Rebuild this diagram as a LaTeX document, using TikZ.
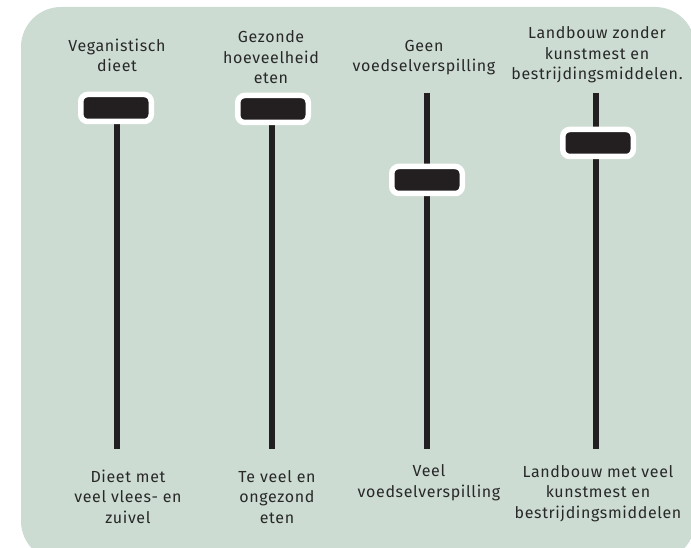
\documentclass[tikz,border=0pt]{standalone}
\usepackage{fontspec}
\setmainfont{Fira Sans}[LetterSpace=4]
\definecolor{bg}{RGB}{204,220,210}
\definecolor{ink}{RGB}{35,31,32}
\definecolor{txt}{RGB}{40,40,40}
\begin{document}
\begin{tikzpicture}[x=1pt,y=-1pt,
  lbl/.style={align=center, anchor=base, text=txt, font=\fontsize{16}{20.5}\selectfont, inner sep=0pt},
  track/.style={draw=ink, line width=6pt},
  knob/.style={fill=ink, draw=white, line width=5.5pt, rounded corners=7pt, minimum width=70.5pt, minimum height=27pt, inner sep=0pt}]
\useasboundingbox (0,0) rectangle (691,548);
\begin{scope}
\clip (0,0) rectangle (691,548);
\fill[bg, rounded corners=40pt] (21,7) rectangle (695,561);
\end{scope}
% tracks
\coordinate (top1) at (117,108); \coordinate (bot1) at (117,449);
\coordinate (top2) at (272,109); \coordinate (bot2) at (272,449);
\coordinate (top3) at (427,93);  \coordinate (bot3) at (427,449);
\coordinate (top4) at (596,93);  \coordinate (bot4) at (596,449);
\draw[track] (top1) -- (bot1);
\draw[track] (top2) -- (bot2);
\draw[track] (top3) -- (bot3);
\draw[track] (top4) -- (bot4);
% knobs
\node[knob] (k1) at (116,108) {};
\node[knob] (k2) at (273,109) {};
\node[knob] (k3) at (427,180) {};
\node[knob] (k4) at (598,143) {};
% top labels (anchor = baseline of last line)
\node[lbl] (t1) at (117,72) {Veganistisch\\dieet};
\node[lbl] (t2) at (271,84) {Gezonde\\hoeveelheid\\eten};
\node[lbl] (t3) at (424,72) {Geen\\voedselverspilling};
\node[lbl] (t4) at (597,80) {Landbouw zonder\\kunstmest en\\bestrijdingsmiddelen.};
% bottom labels
\node[lbl] (u1) at (128,523) {Dieet met\\veel vlees- en\\zuivel};
\node[lbl] (u2) at (277,523) {Te veel en\\ongezond\\eten};
\node[lbl] (u3) at (429,497) {Veel\\voedselverspilling};
\node[lbl] (u4) at (598,518) {Landbouw met veel\\kunstmest en\\bestrijdingsmiddelen};
\end{tikzpicture}
\end{document}
